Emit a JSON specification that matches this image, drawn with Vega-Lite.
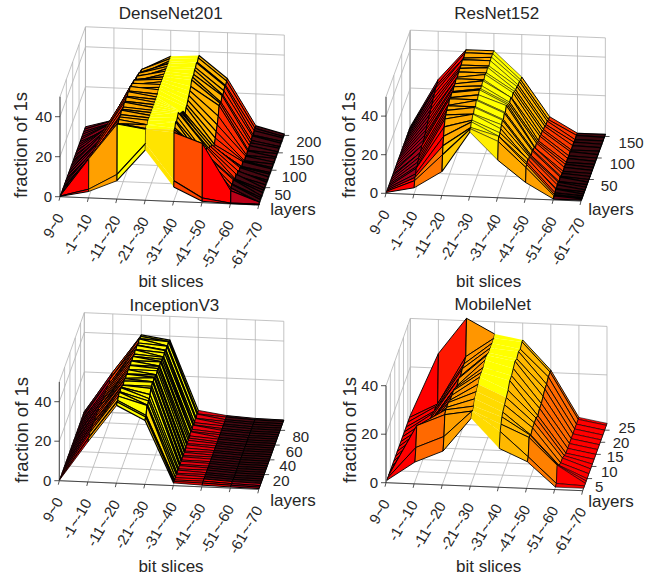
{"$schema":"https://vega.github.io/schema/vega-lite/v6.json","width":652,"height":577,"padding":0,"autosize":"none","background":"white",
"config":{"view":{"stroke":null},"font":"Liberation Sans"},
"params":[{"name":"P","value":{
"DenseNet201":{"ox":60,"oy":196.7,"sx":28.4,"sy":1.19,"lx":0.127,"ly":-0.348,"zy":2,"lm":201,"zm":50,"nl":4,"far":[-0.5,0.05,0.55,1,0.6,0.05,-0.8],"near":[0,0.5,1,0.85,0.15,0,-0.3],"sw":[1,0.8,1.1,0,1.1,1,1.2],"ldx":8.5,"ldk":0.0175,"ldy":7,"ldj":0,"t":{"title":[170.7,14],"xt":[171,281.7],"yt":[293,210],"zt":[20.7,145]}},
"ResNet152":{"ox":386,"oy":193.3,"sx":27.86,"sy":1.1,"lx":0.157,"ly":-0.43,"zy":1.93,"lm":155,"zm":50,"nl":6,"far":[-0.4,0,0.55,1,0.6,0.1,-0.85],"near":[0,0.3,0.7,0.9,0.55,0.5,-0.7],"sw":[1,0.9,1.1,0.5,1,0.9,1.2],"ldx":11,"ldk":0.02,"ldy":6,"ldj":0,"t":{"title":[496.7,14],"xt":[488.7,281.7],"yt":[611,210],"zt":[348.7,145]}},
"InceptionV3":{"ox":59.3,"oy":480.7,"sx":28.5,"sy":1.23,"lx":0.266,"ly":-0.737,"zy":1.975,"lm":94,"zm":50,"nl":8,"far":[-0.3,0.1,0.95,1,-0.1,-0.8,-0.85],"near":[0,0.5,1,0.8,0,0,-0.3],"sw":[0.8,0.9,1.2,1.2,0.8,1,1],"ldx":7.5,"ldk":0.06,"ldy":6.5,"ldj":0,"t":{"title":[174.3,306],"xt":[171,567.3],"yt":[293,501],"zt":[21.7,430]}},
"MobileNet":{"ox":386,"oy":482.7,"sx":28.1,"sy":1.14,"lx":0.874,"ly":-2.42,"zy":2.425,"lm":27.8,"zm":40,"nl":9,"far":[0,0.02,0.45,1,0.62,0.25,0],"near":[0,0.25,0.5,0.8,0.62,0.35,0],"sw":[0.9,0.9,1,0,0.9,0.9,0.6],"ldx":6.5,"ldk":0.3,"ldy":10.5,"ldj":0.5,"t":{"title":[492.7,305],"xt":[488.7,567.3],"yt":[611,501.7],"zt":[350,430]}}
}}],
"datasets":{
"surface":[
{"panel":"DenseNet201","layer":201,"v":[0,4,30,37,38,27,4,0.5]},
{"panel":"DenseNet201","layer":194,"v":[0,5,31,37,38,27,4,0.5]},
{"panel":"DenseNet201","layer":187,"v":[0,5,30,37,37,26,4,1]},
{"panel":"DenseNet201","layer":180,"v":[0,6,32,37,38,27,3,0.5]},
{"panel":"DenseNet201","layer":172,"v":[0,7,33,37,37,26,4,1]},
{"panel":"DenseNet201","layer":165,"v":[0,8,32,37,37,25,3,0.5]},
{"panel":"DenseNet201","layer":158,"v":[0,7,34,37,36,26,3,1]},
{"panel":"DenseNet201","layer":150,"v":[0,9,33,37,36,24,3,0.5]},
{"panel":"DenseNet201","layer":142,"v":[0,10,35,37,36,25,2,1]},
{"panel":"DenseNet201","layer":135,"v":[0,9,36,37,34,25,3,0.5]},
{"panel":"DenseNet201","layer":128,"v":[0,12,35,37,33,21,2,1]},
{"panel":"DenseNet201","layer":120,"v":[0,11,37,37,32,18,3,0.5]},
{"panel":"DenseNet201","layer":112,"v":[0,13,36,37,31,16,2,1]},
{"panel":"DenseNet201","layer":105,"v":[0,12,38,37,30,14,3,0.5]},
{"panel":"DenseNet201","layer":98,"v":[0,14,37,36,30,12,4,1]},
{"panel":"DenseNet201","layer":90,"v":[0,15,38,36,28,12,3,0.5]},
{"panel":"DenseNet201","layer":83,"v":[0,14,37,36,30,14,4,1]},
{"panel":"DenseNet201","layer":75,"v":[0,15,38,36,32,16,5,1]},
{"panel":"DenseNet201","layer":68,"v":[0,14,37,36,33,15,4,0.5]},
{"panel":"DenseNet201","layer":60,"v":[0,16,38,36,34,18,6,1]},
{"panel":"DenseNet201","layer":52,"v":[0,15,37,36,35,17,5,1]},
{"panel":"DenseNet201","layer":45,"v":[0,16,37,36,36,20,7,0.5]},
{"panel":"DenseNet201","layer":37,"v":[0,17,38,36,38,21,6,1]},
{"panel":"DenseNet201","layer":30,"v":[0,16,37,36,37,19,7,1]},
{"panel":"DenseNet201","layer":23,"v":[0,17,37,36,36,20,8,0.5]},
{"panel":"DenseNet201","layer":16,"v":[0,18,37,35,37,18,7,1]},
{"panel":"DenseNet201","layer":10,"v":[0,17,36,36,35,22,8,1]},
{"panel":"DenseNet201","layer":5,"v":[0,18,37,35,35,24,7,0.5]},
{"panel":"DenseNet201","layer":3,"v":[0,19,37,35,34,29,6,1]},
{"panel":"DenseNet201","layer":2,"v":[0,4,12,28,10,2,0,0]},
{"panel":"DenseNet201","layer":1,"v":[0,3,9,25,7,0.5,0,0]},
{"panel":"ResNet152","layer":155,"v":[0,25,41,41,28,8,0,0]},
{"panel":"ResNet152","layer":148,"v":[0,24,41,41,28,8,0.5,0]},
{"panel":"ResNet152","layer":140,"v":[0,24,40,41,29,9,0,0]},
{"panel":"ResNet152","layer":132,"v":[0,23,41,41,29,9,0.5,0]},
{"panel":"ResNet152","layer":124,"v":[0,22,40,40,30,10,0.5,0]},
{"panel":"ResNet152","layer":116,"v":[0,21,40,41,30,10,0,0]},
{"panel":"ResNet152","layer":108,"v":[0,20,40,40,31,11,1,0]},
{"panel":"ResNet152","layer":100,"v":[0,19,39,41,32,11,0.5,0]},
{"panel":"ResNet152","layer":92,"v":[0,18,40,40,31,12,1,0]},
{"panel":"ResNet152","layer":85,"v":[0,17,39,41,33,11,0.5,0]},
{"panel":"ResNet152","layer":78,"v":[0,16,39,40,32,12,1,0]},
{"panel":"ResNet152","layer":71,"v":[0,15,38,40,33,13,1,0]},
{"panel":"ResNet152","layer":64,"v":[0,14,39,41,34,12,0.5,0]},
{"panel":"ResNet152","layer":57,"v":[0,13,38,40,35,14,1,0]},
{"panel":"ResNet152","layer":50,"v":[0,14,39,39,33,14,1,0]},
{"panel":"ResNet152","layer":44,"v":[0,12,37,40,34,15,2,0]},
{"panel":"ResNet152","layer":38,"v":[0,13,38,38,32,14,1,0]},
{"panel":"ResNet152","layer":32,"v":[0,12,37,39,33,15,2,0]},
{"panel":"ResNet152","layer":26,"v":[0,11,36,37,32,16,2,0]},
{"panel":"ResNet152","layer":21,"v":[0,10,35,38,31,15,1,0]},
{"panel":"ResNet152","layer":16,"v":[0,10,32,36,30,17,2,0]},
{"panel":"ResNet152","layer":12,"v":[0,8,28,36,29,16,1,0]},
{"panel":"ResNet152","layer":8,"v":[0,7,24,34,30,16,1,0]},
{"panel":"ResNet152","layer":5,"v":[0,6,20,34,28,15,1,0]},
{"panel":"ResNet152","layer":2,"v":[0,3,12,33,19,8,0,0]},
{"panel":"InceptionV3","layer":94,"v":[0,20,40,38,3,1,0.2,0]},
{"panel":"InceptionV3","layer":92,"v":[0,21,40,38,2,1,0.2,0]},
{"panel":"InceptionV3","layer":89,"v":[0,20,40,39,3,0.8,0.1,0]},
{"panel":"InceptionV3","layer":86,"v":[0,20,41,38,2,1,0.2,0]},
{"panel":"InceptionV3","layer":83,"v":[0,21,40,39,3,0.8,0.1,0]},
{"panel":"InceptionV3","layer":80,"v":[0,19,40,38,2,1,0.2,0]},
{"panel":"InceptionV3","layer":77,"v":[0,20,41,39,2,0.8,0.1,0]},
{"panel":"InceptionV3","layer":74,"v":[0,21,40,39,3,1,0.2,0]},
{"panel":"InceptionV3","layer":71,"v":[0,20,41,38,2,0.8,0.1,0]},
{"panel":"InceptionV3","layer":68,"v":[0,21,40,39,2,1,0.2,0]},
{"panel":"InceptionV3","layer":65,"v":[0,20,40,39,3,0.8,0.1,0]},
{"panel":"InceptionV3","layer":62,"v":[0,21,41,39,2,1,0.2,0]},
{"panel":"InceptionV3","layer":59,"v":[0,20,40,40,2,0.8,0.1,0]},
{"panel":"InceptionV3","layer":56,"v":[0,21,41,39,2,1,0.2,0]},
{"panel":"InceptionV3","layer":53,"v":[0,21,40,40,1.5,1,0.1,0]},
{"panel":"InceptionV3","layer":50,"v":[0,20,41,40,2,1,0.2,0]},
{"panel":"InceptionV3","layer":47,"v":[0,21,40,40,1.5,0.8,0.1,0]},
{"panel":"InceptionV3","layer":44,"v":[0,21,41,39,1,1,0.2,0]},
{"panel":"InceptionV3","layer":41,"v":[0,22,40,40,1.5,0.8,0.1,0]},
{"panel":"InceptionV3","layer":38,"v":[0,21,41,40,1,1,0.2,0]},
{"panel":"InceptionV3","layer":35,"v":[0,22,40,41,1.5,1,0.1,0]},
{"panel":"InceptionV3","layer":32,"v":[0,21,41,40,1,0.8,0.2,0]},
{"panel":"InceptionV3","layer":29,"v":[0,22,41,41,1.5,1,0.1,0]},
{"panel":"InceptionV3","layer":26,"v":[0,21,40,40,1,0.8,0.2,0]},
{"panel":"InceptionV3","layer":23,"v":[0,22,41,40,1.5,1,0.1,0]},
{"panel":"InceptionV3","layer":20,"v":[0,22,41,38,1,1,0.2,0]},
{"panel":"InceptionV3","layer":17,"v":[0,21,42,37,1.5,0.8,0.1,0]},
{"panel":"InceptionV3","layer":14,"v":[0,22,41,37,1,1,0.2,0]},
{"panel":"InceptionV3","layer":11,"v":[0,21,42,36,1.5,1,0.3,0]},
{"panel":"InceptionV3","layer":8,"v":[0,22,41,37,1,1,0.3,0]},
{"panel":"InceptionV3","layer":5,"v":[0,21,40,33,1,1,0.4,0]},
{"panel":"InceptionV3","layer":3,"v":[0,21,40,33,1,0.8,0.3,0]},
{"panel":"InceptionV3","layer":1,"v":[0,20,39,32,1,0.5,0.2,0]},
{"panel":"MobileNet","layer":27.8,"v":[0,26,41,35,33,21,2,0]},
{"panel":"MobileNet","layer":27,"v":[0,6,26,34,33,21,2,0]},
{"panel":"MobileNet","layer":25,"v":[0,7,25,34,32,21,2,0]},
{"panel":"MobileNet","layer":23,"v":[0,7,25,34,33,20,2,0]},
{"panel":"MobileNet","layer":21,"v":[0,8,24,34,32,20,2,0]},
{"panel":"MobileNet","layer":19,"v":[0,8,25,35,33,19,2,0]},
{"panel":"MobileNet","layer":17,"v":[0,8,24,35,32,18,2,0]},
{"panel":"MobileNet","layer":15,"v":[0,9,25,34,31,18,2,0]},
{"panel":"MobileNet","layer":13,"v":[0,9,26,34,31,17,2,0]},
{"panel":"MobileNet","layer":11,"v":[0,10,26,34,29,18,3,0]},
{"panel":"MobileNet","layer":9,"v":[0,10,26,33,28,18,4,0]},
{"panel":"MobileNet","layer":7,"v":[0,11,27,32,27,18,4,0]},
{"panel":"MobileNet","layer":5,"v":[0,15,27,31,26,17,5,0]},
{"panel":"MobileNet","layer":4,"v":[0,20,27,29,25,18,6,0]},
{"panel":"MobileNet","layer":3,"v":[0,21,26,28,23,18,7,0]},
{"panel":"MobileNet","layer":2,"v":[0,13,18,29,21,11,0.5,0]},
{"panel":"MobileNet","layer":1,"v":[0,8,13,27,15,10,0,0]}
],
"ticks":[
{"panel":"DenseNet201","axis":"s","t":0,"label":"9~0"},{"panel":"DenseNet201","axis":"s","t":1,"label":"-1~-10"},{"panel":"DenseNet201","axis":"s","t":2,"label":"-11~-20"},{"panel":"DenseNet201","axis":"s","t":3,"label":"-21~-30"},{"panel":"DenseNet201","axis":"s","t":4,"label":"-31~-40"},{"panel":"DenseNet201","axis":"s","t":5,"label":"-41~-50"},{"panel":"DenseNet201","axis":"s","t":6,"label":"-51~-60"},{"panel":"DenseNet201","axis":"s","t":7,"label":"-61~-70"},
{"panel":"ResNet152","axis":"s","t":0,"label":"9~0"},{"panel":"ResNet152","axis":"s","t":1,"label":"-1~-10"},{"panel":"ResNet152","axis":"s","t":2,"label":"-11~-20"},{"panel":"ResNet152","axis":"s","t":3,"label":"-21~-30"},{"panel":"ResNet152","axis":"s","t":4,"label":"-31~-40"},{"panel":"ResNet152","axis":"s","t":5,"label":"-41~-50"},{"panel":"ResNet152","axis":"s","t":6,"label":"-51~-60"},{"panel":"ResNet152","axis":"s","t":7,"label":"-61~-70"},
{"panel":"InceptionV3","axis":"s","t":0,"label":"9~0"},{"panel":"InceptionV3","axis":"s","t":1,"label":"-1~-10"},{"panel":"InceptionV3","axis":"s","t":2,"label":"-11~-20"},{"panel":"InceptionV3","axis":"s","t":3,"label":"-21~-30"},{"panel":"InceptionV3","axis":"s","t":4,"label":"-31~-40"},{"panel":"InceptionV3","axis":"s","t":5,"label":"-41~-50"},{"panel":"InceptionV3","axis":"s","t":6,"label":"-51~-60"},{"panel":"InceptionV3","axis":"s","t":7,"label":"-61~-70"},
{"panel":"MobileNet","axis":"s","t":0,"label":"9~0"},{"panel":"MobileNet","axis":"s","t":1,"label":"-1~-10"},{"panel":"MobileNet","axis":"s","t":2,"label":"-11~-20"},{"panel":"MobileNet","axis":"s","t":3,"label":"-21~-30"},{"panel":"MobileNet","axis":"s","t":4,"label":"-31~-40"},{"panel":"MobileNet","axis":"s","t":5,"label":"-41~-50"},{"panel":"MobileNet","axis":"s","t":6,"label":"-51~-60"},{"panel":"MobileNet","axis":"s","t":7,"label":"-61~-70"},
{"panel":"DenseNet201","axis":"l","t":0,"label":""},{"panel":"DenseNet201","axis":"l","t":50,"label":"50"},{"panel":"DenseNet201","axis":"l","t":100,"label":"100"},{"panel":"DenseNet201","axis":"l","t":150,"label":"150"},{"panel":"DenseNet201","axis":"l","t":200,"label":"200"},
{"panel":"ResNet152","axis":"l","t":0,"label":""},{"panel":"ResNet152","axis":"l","t":50,"label":"50"},{"panel":"ResNet152","axis":"l","t":100,"label":"100"},{"panel":"ResNet152","axis":"l","t":150,"label":"150"},{"panel":"ResNet152","axis":"l","t":155,"label":""},
{"panel":"InceptionV3","axis":"l","t":0,"label":""},{"panel":"InceptionV3","axis":"l","t":20,"label":"20"},{"panel":"InceptionV3","axis":"l","t":40,"label":"40"},{"panel":"InceptionV3","axis":"l","t":60,"label":"60"},{"panel":"InceptionV3","axis":"l","t":80,"label":"80"},{"panel":"InceptionV3","axis":"l","t":94,"label":""},
{"panel":"MobileNet","axis":"l","t":0,"label":""},{"panel":"MobileNet","axis":"l","t":5,"label":"5"},{"panel":"MobileNet","axis":"l","t":10,"label":"10"},{"panel":"MobileNet","axis":"l","t":15,"label":"15"},{"panel":"MobileNet","axis":"l","t":20,"label":"20"},{"panel":"MobileNet","axis":"l","t":25,"label":"25"},{"panel":"MobileNet","axis":"l","t":27.8,"label":""},
{"panel":"DenseNet201","axis":"z","t":0,"label":"0"},{"panel":"DenseNet201","axis":"z","t":20,"label":"20"},{"panel":"DenseNet201","axis":"z","t":40,"label":"40"},{"panel":"DenseNet201","axis":"z","t":50,"label":""},
{"panel":"ResNet152","axis":"z","t":0,"label":"0"},{"panel":"ResNet152","axis":"z","t":20,"label":"20"},{"panel":"ResNet152","axis":"z","t":40,"label":"40"},{"panel":"ResNet152","axis":"z","t":50,"label":""},
{"panel":"InceptionV3","axis":"z","t":0,"label":"0"},{"panel":"InceptionV3","axis":"z","t":20,"label":"20"},{"panel":"InceptionV3","axis":"z","t":40,"label":"40"},{"panel":"InceptionV3","axis":"z","t":50,"label":""},
{"panel":"MobileNet","axis":"z","t":0,"label":"0"},{"panel":"MobileNet","axis":"z","t":20,"label":"20"},{"panel":"MobileNet","axis":"z","t":40,"label":"40"}
],
"labels":[
{"panel":"DenseNet201","kind":"title","label":"DenseNet201"},{"panel":"DenseNet201","kind":"xt","label":"bit slices"},{"panel":"DenseNet201","kind":"yt","label":"layers"},{"panel":"DenseNet201","kind":"zt","label":"fraction of 1s"},
{"panel":"ResNet152","kind":"title","label":"ResNet152"},{"panel":"ResNet152","kind":"xt","label":"bit slices"},{"panel":"ResNet152","kind":"yt","label":"layers"},{"panel":"ResNet152","kind":"zt","label":"fraction of 1s"},
{"panel":"InceptionV3","kind":"title","label":"InceptionV3"},{"panel":"InceptionV3","kind":"xt","label":"bit slices"},{"panel":"InceptionV3","kind":"yt","label":"layers"},{"panel":"InceptionV3","kind":"zt","label":"fraction of 1s"},
{"panel":"MobileNet","kind":"title","label":"MobileNet"},{"panel":"MobileNet","kind":"xt","label":"bit slices"},{"panel":"MobileNet","kind":"yt","label":"layers"},{"panel":"MobileNet","kind":"zt","label":"fraction of 1s"}
],
"frames":[{"panel":"DenseNet201"},{"panel":"ResNet152"},{"panel":"InceptionV3"},{"panel":"MobileNet"}]
},
"encoding":{
"x":{"field":"x","type":"quantitative","scale":{"domain":[0,652],"nice":false,"zero":false},"axis":null},
"y":{"field":"y","type":"quantitative","scale":{"domain":[577,0],"nice":false,"zero":false},"axis":null}
},
"layer":[
{"data":{"name":"ticks"},
"transform":[
{"calculate":"P[datum.panel]","as":"p"},
{"calculate":"[0,1,2]","as":"c"},{"flatten":["c"]},
{"calculate":"datum.axis==='s'?datum.t:(datum.axis==='l'?(datum.c===0?7:0):(datum.c===2?7:0))","as":"s"},
{"calculate":"datum.axis==='l'?datum.t:(datum.c===0?0:datum.p.lm)","as":"l"},
{"calculate":"datum.axis==='z'?datum.t:(datum.c===2?datum.p.zm:0)","as":"z"},
{"calculate":"datum.p.ox+datum.s*datum.p.sx+datum.l*datum.p.lx","as":"x"},
{"calculate":"datum.p.oy+datum.s*datum.p.sy+datum.l*datum.p.ly-datum.z*datum.p.zy","as":"y"},
{"calculate":"datum.panel+datum.axis+datum.t","as":"g"}
],
"mark":{"type":"line","stroke":"#b4b4b4","strokeWidth":0.8},
"encoding":{"detail":{"field":"g"},"order":{"field":"c","type":"quantitative"}}},
{"data":{"name":"frames"},
"transform":[
{"calculate":"P[datum.panel]","as":"p"},
{"calculate":"[0,1,2,3]","as":"c"},{"flatten":["c"]},
{"calculate":"datum.c<2?0:7","as":"s"},
{"calculate":"datum.c===3?datum.p.lm:0","as":"l"},
{"calculate":"datum.c===0?datum.p.zm:0","as":"z"},
{"calculate":"datum.p.ox+datum.s*datum.p.sx+datum.l*datum.p.lx","as":"x"},
{"calculate":"datum.p.oy+datum.s*datum.p.sy+datum.l*datum.p.ly-datum.z*datum.p.zy","as":"y"}
],
"mark":{"type":"line","stroke":"#262626","strokeWidth":0.8},
"encoding":{"detail":{"field":"panel"},"order":{"field":"c","type":"quantitative"}}},
{"data":{"name":"ticks"},
"transform":[
{"filter":"datum.label!==''"},
{"calculate":"P[datum.panel]","as":"p"},
{"calculate":"datum.axis==='s'?datum.t:(datum.axis==='l'?7:0)","as":"s"},
{"calculate":"datum.axis==='l'?datum.t:0","as":"l"},
{"calculate":"datum.axis==='z'?datum.t:0","as":"z"},
{"calculate":"datum.p.ox+datum.s*datum.p.sx+datum.l*datum.p.lx","as":"x"},
{"calculate":"datum.p.oy+datum.s*datum.p.sy+datum.l*datum.p.ly-datum.z*datum.p.zy","as":"y"},
{"calculate":"datum.x+(datum.axis==='s'?-1:(datum.axis==='l'?5:-5))","as":"x2"},
{"calculate":"datum.y+(datum.axis==='s'?4:0)","as":"y2"}
],
"mark":{"type":"rule","stroke":"#262626","strokeWidth":0.8},
"encoding":{"x2":{"field":"x2"},"y2":{"field":"y2"}}},
{"data":{"name":"surface"},
"transform":[
{"window":[{"op":"lead","field":"v","as":"w"},{"op":"lead","field":"layer","as":"next"}],"groupby":["panel"],"sort":[{"field":"layer","order":"ascending"}]},
{"filter":"isValid(datum.next)"},
{"calculate":"P[datum.panel]","as":"p"},
{"calculate":"[0,1,2,3,4,5,6]","as":"i"},{"flatten":["i"]},
{"calculate":"datum.panel+'-'+datum.layer+'-'+datum.i","as":"q"},
{"calculate":"(datum.v[datum.i]+datum.v[datum.i+1]+datum.w[datum.i]+datum.w[datum.i+1])/4","as":"zbar"},
{"calculate":"(datum.layer<datum.p.nl?datum.p.near:datum.p.far)[datum.i]","as":"b"},
{"calculate":"datum.b>0?datum.b*min(1,datum.zbar/6):datum.b","as":"heat"},
{"calculate":"datum.p.sw[datum.i]","as":"sw"},
{"calculate":"[0,1,2,3,4]","as":"c"},{"flatten":["c"]},
{"calculate":"datum.i+((datum.c%4===1||datum.c%4===2)?1:0)","as":"s"},
{"calculate":"datum.c%4<2?datum.layer:datum.next","as":"l"},
{"calculate":"datum.c%4<2?datum.v[datum.s]:datum.w[datum.s]","as":"z"},
{"calculate":"datum.p.ox+datum.s*datum.p.sx+datum.l*datum.p.lx","as":"x"},
{"calculate":"datum.p.oy+datum.s*datum.p.sy+datum.l*datum.p.ly-datum.z*datum.p.zy","as":"y"}
],
"mark":{"type":"line","stroke":"#000000","strokeJoin":"round"},
"encoding":{"detail":{"field":"q"},"order":{"field":"c","type":"quantitative"},
"strokeWidth":{"field":"sw","type":"quantitative","scale":null,"legend":null},
"fill":{"field":"heat","type":"quantitative","legend":null,"scale":{"domain":[-1,0,1],"range":["#200000","#ff0000","#ffff00"]}}}},
{"data":{"name":"ticks"},
"transform":[{"filter":"datum.axis==='s'"},{"calculate":"P[datum.panel]","as":"p"},
{"calculate":"datum.p.ox+datum.t*datum.p.sx","as":"x"},{"calculate":"datum.p.oy+datum.t*datum.p.sy+18","as":"y"}],
"mark":{"type":"text","font":"Liberation Sans","fontSize":15,"fill":"#262626","angle":300,"align":"right","baseline":"middle"},
"encoding":{"text":{"field":"label"}}},
{"data":{"name":"ticks"},
"transform":[{"filter":"datum.axis==='l'"},{"calculate":"P[datum.panel]","as":"p"},
{"calculate":"datum.p.ox+7*datum.p.sx+datum.t*datum.p.lx+datum.p.ldx+datum.p.ldk*datum.t","as":"x"},{"calculate":"datum.p.oy+7*datum.p.sy+datum.t*datum.p.ly+datum.p.ldy-datum.p.ldj*datum.t","as":"y"}],
"mark":{"type":"text","font":"Liberation Sans","fontSize":15,"fill":"#262626","align":"left","baseline":"middle"},
"encoding":{"text":{"field":"label"}}},
{"data":{"name":"ticks"},
"transform":[{"filter":"datum.axis==='z'"},{"calculate":"P[datum.panel]","as":"p"},
{"calculate":"datum.p.ox","as":"x"},{"calculate":"datum.p.oy-datum.t*datum.p.zy","as":"y"}],
"mark":{"type":"text","font":"Liberation Sans","fontSize":15,"fill":"#262626","align":"right","baseline":"middle","dx":-8},
"encoding":{"text":{"field":"label"}}},
{"data":{"name":"labels"},
"transform":[{"filter":"datum.kind!=='zt'"},{"calculate":"P[datum.panel]","as":"p"},
{"calculate":"datum.p.t[datum.kind][0]","as":"x"},{"calculate":"datum.p.t[datum.kind][1]","as":"y"}],
"mark":{"type":"text","font":"Liberation Sans","fontSize":17,"fill":"#262626","align":"center","baseline":"middle"},
"encoding":{"text":{"field":"label"}}},
{"data":{"name":"labels"},
"transform":[{"filter":"datum.kind==='zt'"},{"calculate":"P[datum.panel]","as":"p"},
{"calculate":"datum.p.t[datum.kind][0]","as":"x"},{"calculate":"datum.p.t[datum.kind][1]","as":"y"}],
"mark":{"type":"text","font":"Liberation Sans","fontSize":18.5,"fill":"#262626","angle":270,"align":"center","baseline":"middle"},
"encoding":{"text":{"field":"label"}}}
]}
